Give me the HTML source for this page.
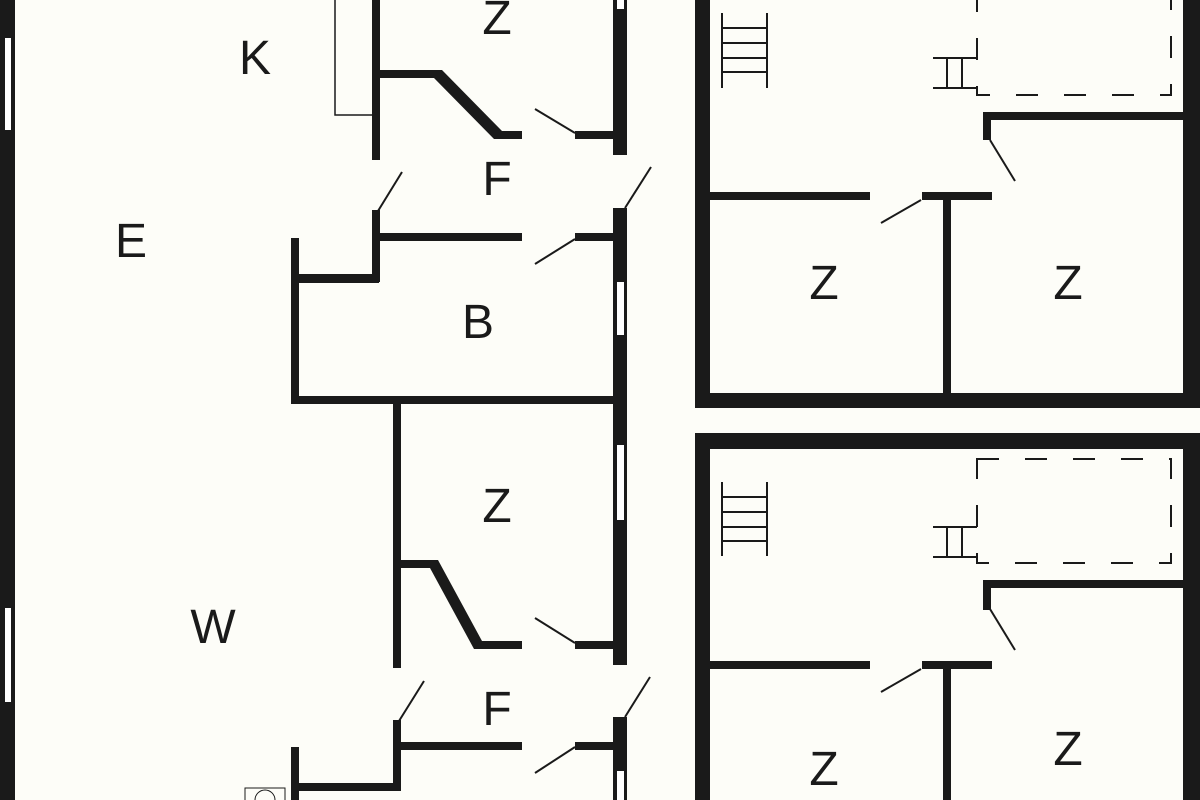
<!DOCTYPE html>
<html><head><meta charset="utf-8"><style>
html,body{margin:0;padding:0;background:#fdfdf8;}
svg{display:block;}
text{font-family:"Liberation Sans",sans-serif;font-size:48px;fill:#1a1a1a;text-anchor:middle;}
</style></head><body>
<svg width="1200" height="800" viewBox="0 0 1200 800" xmlns="http://www.w3.org/2000/svg">
<rect width="1200" height="800" fill="#fdfdf8"/>
<g fill="#1a1a1a">
<rect x="0" y="0" width="15" height="800"/>
<rect x="335" y="-2" width="40" height="117" fill="none" stroke="#1a1a1a" stroke-width="1.5"/>
<rect x="372" y="0" width="8" height="160"/>
<rect x="372" y="210" width="8" height="72"/>
<rect x="378" y="70" width="60" height="8"/>
<polygon points="434,70 442,70 502,131 502,139 494,139 434,78"/>
<rect x="498" y="131" width="24" height="8"/>
<rect x="575" y="131" width="40" height="8"/>
<rect x="613" y="0" width="14" height="155"/>
<rect x="613" y="208" width="14" height="457"/>
<rect x="613" y="717" width="14" height="83"/>
<rect x="378" y="233" width="144" height="8"/>
<rect x="575" y="233" width="40" height="8"/>
<rect x="291" y="274" width="88" height="9"/>
<rect x="291" y="238" width="8" height="166"/>
<rect x="291" y="396" width="324" height="8"/>
<rect x="393" y="403" width="8" height="265"/>
<rect x="393" y="720" width="8" height="70"/>
<rect x="400" y="560" width="35" height="8"/>
<polygon points="430,560 438,560 482,641 482,649 474,649 430,568"/>
<rect x="478" y="641" width="44" height="8"/>
<rect x="575" y="641" width="40" height="8"/>
<rect x="400" y="742" width="122" height="8"/>
<rect x="575" y="742" width="40" height="8"/>
<rect x="291" y="747" width="8" height="60"/>
<rect x="291" y="783" width="110" height="8"/>
<rect x="695" y="0" width="15" height="408"/>
<rect x="1183" y="0" width="17" height="408"/>
<rect x="695" y="393" width="505" height="15"/>
<rect x="710" y="192" width="160" height="8"/>
<rect x="922" y="192" width="70" height="8"/>
<rect x="943" y="200" width="8" height="193"/>
<rect x="983" y="112" width="200" height="8"/>
<rect x="983" y="112" width="8" height="28"/>
<rect x="695" y="433" width="505" height="16"/>
<rect x="695" y="433" width="15" height="367"/>
<rect x="1183" y="433" width="17" height="367"/>
<rect x="710" y="661" width="160" height="8"/>
<rect x="922" y="661" width="70" height="8"/>
<rect x="943" y="669" width="8" height="131"/>
<rect x="983" y="580" width="200" height="8"/>
<rect x="983" y="580" width="8" height="30"/>
</g>
<g fill="#fff">
<rect x="5" y="38" width="6" height="92"/>
<rect x="5" y="608" width="6" height="94"/>
<rect x="617" y="-2" width="7" height="11"/>
<rect x="617" y="282" width="7" height="53"/>
<rect x="617" y="445" width="7" height="75"/>
<rect x="617" y="771" width="7" height="40"/>
</g>
<g stroke="#1a1a1a" stroke-width="2" fill="none">
<line x1="575" y1="133" x2="535" y2="109"/>
<line x1="378" y1="211" x2="402" y2="172"/>
<line x1="625" y1="208" x2="651" y2="167"/>
<line x1="575" y1="239" x2="535" y2="264"/>
<line x1="575" y1="643" x2="535" y2="618"/>
<line x1="399" y1="721" x2="424" y2="681"/>
<line x1="625" y1="717" x2="650" y2="677"/>
<line x1="575" y1="747" x2="535" y2="773"/>
<line x1="921" y1="200" x2="881" y2="223"/>
<line x1="990" y1="140" x2="1015" y2="181"/>
<line x1="921" y1="669" x2="881" y2="692"/>
<line x1="990" y1="609" x2="1015" y2="650"/>
<path d="M722 13V88M767 13V88M722 28H767M722 43H767M722 58H767M722 72H767"/>
<path d="M722 482V556M767 482V556M722 497H767M722 512H767M722 527H767M722 541H767"/>
<path d="M933 58H977M933 88H977M947 58V88M962 58V88"/>
<path d="M933 527H977M933 557H977M947 527V557M962 527V557"/>
<rect x="977" y="-10" width="194" height="105" stroke-dasharray="22,26"/>
<rect x="977" y="459" width="194" height="104" stroke-dasharray="22,26"/>
</g>
<rect x="245" y="788" width="40" height="14" fill="none" stroke="#1a1a1a" stroke-width="1"/>
<circle cx="265" cy="800" r="10" fill="none" stroke="#1a1a1a" stroke-width="1"/>
<text x="255" y="74">K</text>
<text x="131" y="257">E</text>
<text x="497" y="195">F</text>
<text x="478" y="338">B</text>
<text x="497" y="34">Z</text>
<text x="497" y="522">Z</text>
<text x="213" y="643">W</text>
<text x="497" y="725">F</text>
<text x="824" y="299">Z</text>
<text x="1068" y="299">Z</text>
<text x="824" y="785">Z</text>
<text x="1068" y="765">Z</text>
</svg>
</body></html>
